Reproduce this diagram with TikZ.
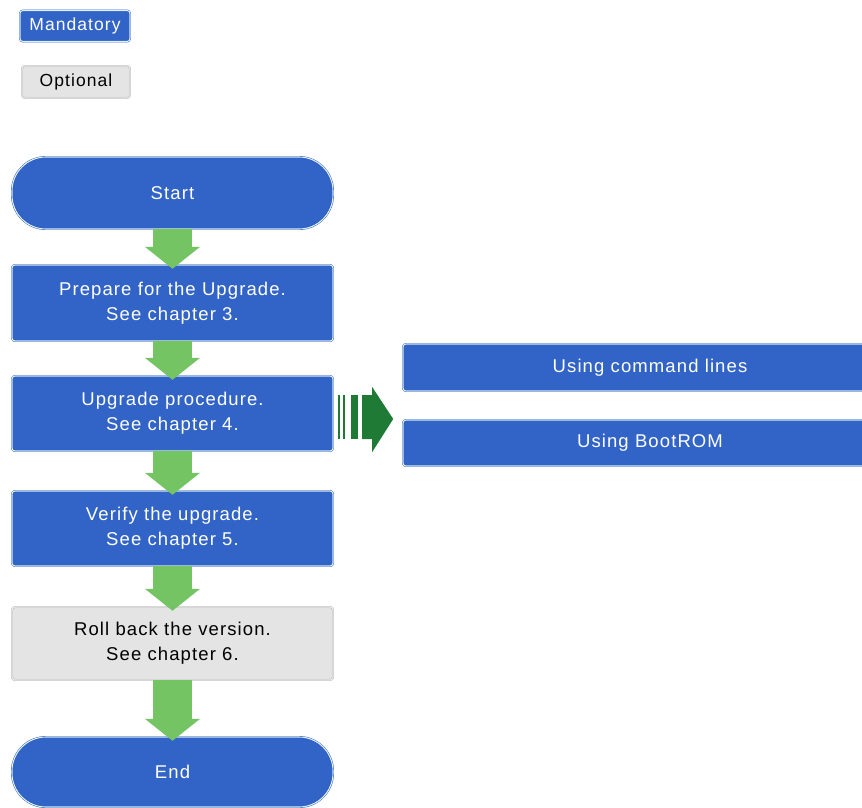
\documentclass[tikz,border=0pt]{standalone}
\usepackage{fontspec}
\setmainfont[LetterSpace=6]{Liberation Sans}
\usepackage{xcolor}
\usetikzlibrary{arrows.meta,positioning}
\definecolor{stepblue}{HTML}{3264C8}
\definecolor{edgeblue}{HTML}{2A4FA8}
\definecolor{lineblue}{HTML}{D8F2FF}
\definecolor{optgrey}{HTML}{E4E4E4}
\definecolor{edgegrey}{HTML}{A8A8A8}
\definecolor{flowgreen}{HTML}{74C464}
\definecolor{darkgreen}{HTML}{1E7A34}
\tikzset{
  mand/.style={draw=edgeblue, double=lineblue, double distance=1.1pt, fill=stepblue,
    text=white, rounded corners=3pt, align=center, inner sep=0pt,
    font=\fontsize{18.5}{25}\selectfont},
  opt/.style={mand, draw=edgegrey, double=optgrey!60!white, fill=optgrey, text=black},
  term/.style={mand, rounded corners=34pt},
  flowbox/.style={minimum width=321pt},
  flow/.style={draw=flowgreen, line width=39pt, -{Triangle[width=54pt,length=22pt]},
    shorten >=-4pt},
  tag/.style={font=\fontsize{17.5}{20}\selectfont},
}
\begin{document}
\begin{tikzpicture}[x=1pt,y=-1pt]
\useasboundingbox (0,0) rectangle (862,807);
% legend
\node[mand, tag, minimum width=110pt, minimum height=31pt] (mandkey) at (75,26) {Mandatory};
\node[opt, tag, minimum width=108pt, minimum height=32pt] (optkey) at (76,82) {Optional};
% main flow
\node[term, flowbox, minimum height=72pt] (start) at (172.5,193) {Start};
\node[mand, flowbox, minimum height=76pt] (prep) at (172.5,303) {Prepare for the Upgrade.\\See chapter 3.};
\node[mand, flowbox, minimum height=75pt] (upg) at (172.5,413.5) {Upgrade procedure.\\See chapter 4.};
\node[mand, flowbox, minimum height=75pt] (verify) at (172.5,528.5) {Verify the upgrade.\\See chapter 5.};
\node[opt, flowbox, minimum height=73pt] (back) at (172.5,643.5) {Roll back the version.\\See chapter 6.};
\node[term, flowbox, minimum height=70pt] (end) at (172.5,772) {End};
% ways to upgrade
\node[mand, minimum width=494pt, minimum height=47pt] (cli) at (650,367.5) {Using command lines};
\node[mand, minimum width=494pt, minimum height=46pt] (bootrom) at (650,443) {Using BootROM};
% green flow arrows
\draw[flow] (start.south) -- (prep.north);
\draw[flow] (prep.south) -- (upg.north);
\draw[flow] (upg.south) -- (verify.north);
\draw[flow] (verify.south) -- (back.north);
\draw[flow] (back.south) -- (end.north);
% striped arrow to the two ways
\coordinate (ways) at (upg.east);
\begin{scope}[shift={(ways)}, darkgreen]
\fill (5,-18.5) rectangle (7,25.5);
\fill (10,-18.5) rectangle (12,25.5);
\fill (18,-18.5) rectangle (25,25.5);
\fill (29,-18.5) -- (39,-18.5) -- (39,-26.5) -- (60,5.5)
  -- (39,38.5) -- (39,25.5) -- (29,25.5) -- cycle;
\end{scope}
\end{tikzpicture}
\end{document}
